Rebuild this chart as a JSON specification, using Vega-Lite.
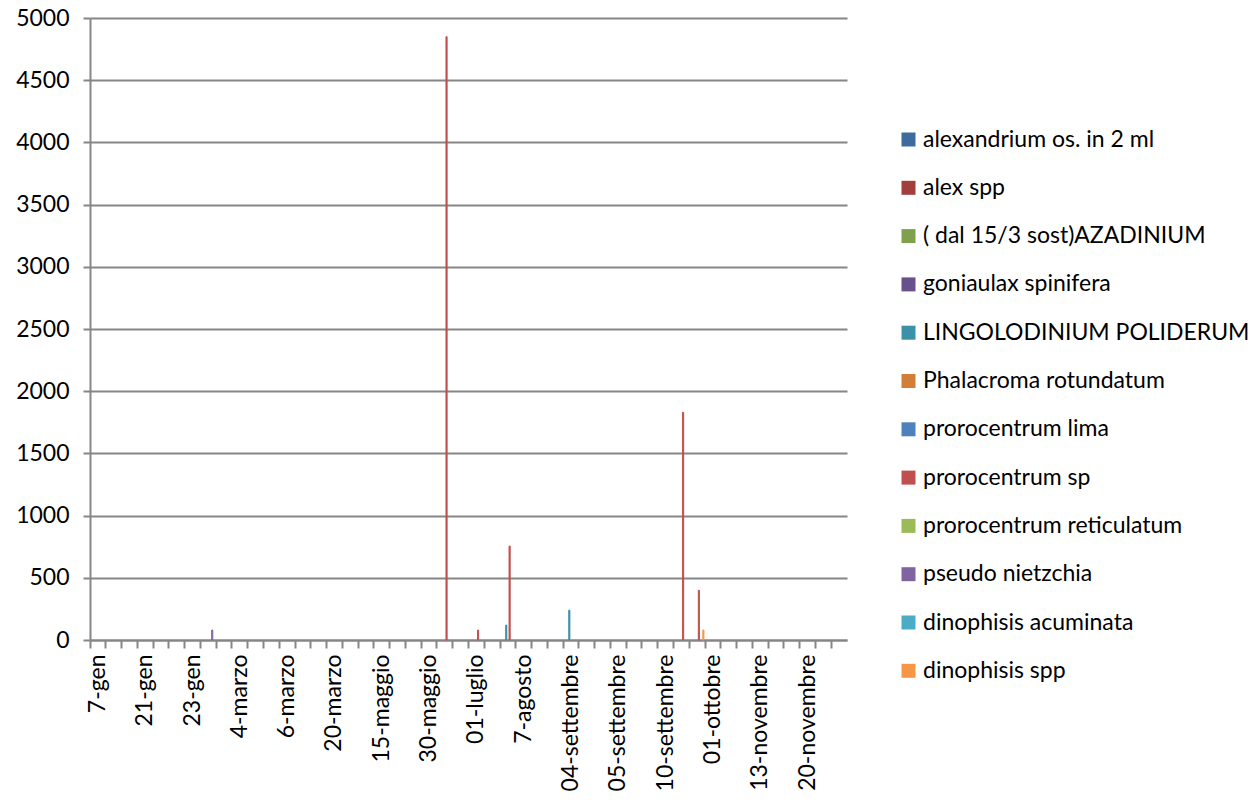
{
  "$schema": "https://vega.github.io/schema/vega-lite/v6.json",
  "autosize": "none",
  "width": 757,
  "height": 622,
  "padding": {"left": 90, "top": 18, "right": 409, "bottom": 172},
  "background": "white",
  "config": {"view": {"stroke": null}, "font": "Lato"},
  "data": {
    "values": [
      {"data": "18-febbraio", "specie": "pseudo nietzchia", "valore": 80},
      {"data": "12-giugno", "specie": "prorocentrum sp", "valore": 4850},
      {"data": "01-luglio", "specie": "prorocentrum sp", "valore": 80},
      {"data": "24-luglio", "specie": "LINGOLODINIUM POLIDERUM", "valore": 120},
      {"data": "24-luglio", "specie": "prorocentrum sp", "valore": 755},
      {"data": "04-settembre", "specie": "LINGOLODINIUM POLIDERUM", "valore": 240},
      {"data": "17-settembre", "specie": "prorocentrum sp", "valore": 1830},
      {"data": "24-settembre", "specie": "prorocentrum sp", "valore": 400},
      {"data": "24-settembre", "specie": "dinophisis spp", "valore": 80}
    ]
  },
  "mark": {"type": "bar", "strokeWidth": 1},
  "encoding": {
    "x": {
      "field": "data",
      "type": "nominal",
      "sort": null,
      "scale": {
        "domain": ["7-gen", "10-gen", "14-gen", "21-gen", "28-gen", "4-febbraio", "23-gen", "18-febbraio", "25-febbraio", "4-marzo", "3-marzo", "5-marzo", "6-marzo", "11-marzo", "13-marzo", "20-marzo", "27-marzo", "8-maggio", "15-maggio", "22-maggio", "27-maggio", "30-maggio", "12-giugno", "19-giugno", "01-luglio", "17-luglio", "24-luglio", "7-agosto", "21-agosto", "28-agosto", "04-settembre", "11-settembre", "18-settembre", "05-settembre", "12-settembre", "19-settembre", "10-settembre", "17-settembre", "24-settembre", "01-ottobre", "16-ottobre", "30-ottobre", "13-novembre", "14-novembre", "15-novembre", "20-novembre", "27-novembre", "11-dicembre"],
        "paddingInner": 0,
        "paddingOuter": 0
      },
      "axis": {
        "title": null,
        "labelAngle": -90,
        "bandPosition": 0,
        "labelExpr": "indexof(['7-gen','21-gen','23-gen','4-marzo','6-marzo','20-marzo','15-maggio','30-maggio','01-luglio','7-agosto','04-settembre','05-settembre','10-settembre','01-ottobre','13-novembre','20-novembre'], datum.label) >= 0 ? datum.label : ''",
        "labelOverlap": false,
        "labelFontSize": 23,
        "labelColor": "#000000",
        "labelPadding": 6,
        "tickColor": "#868686",
        "tickSize": 8,
        "tickWidth": 2,
        "domainColor": "#868686",
        "domainWidth": 2,
        "grid": false
      }
    },
    "xOffset": {
      "field": "specie",
      "type": "nominal",
      "scale": {
        "domain": ["alexandrium os. in 2 ml", "alex spp", "( dal 15/3 sost)AZADINIUM", "goniaulax spinifera", "LINGOLODINIUM POLIDERUM", "Phalacroma rotundatum", "prorocentrum lima", "prorocentrum sp", "prorocentrum reticulatum", "pseudo nietzchia", "dinophisis acuminata", "dinophisis spp"],
        "paddingInner": 0,
        "paddingOuter": 2
      }
    },
    "y": {
      "field": "valore",
      "type": "quantitative",
      "scale": {"domain": [0, 5000], "nice": false},
      "axis": {
        "title": null,
        "format": "d",
        "values": [0, 500, 1000, 1500, 2000, 2500, 3000, 3500, 4000, 4500, 5000],
        "labelFontSize": 23,
        "labelColor": "#000000",
        "labelPadding": 14,
        "tickColor": "#868686",
        "tickSize": 7,
        "tickWidth": 2,
        "domainColor": "#868686",
        "domainWidth": 2,
        "gridColor": "#868686",
        "gridWidth": 2
      }
    },
    "color": {
      "field": "specie",
      "type": "nominal",
      "scale": {
        "domain": ["alexandrium os. in 2 ml", "alex spp", "( dal 15/3 sost)AZADINIUM", "goniaulax spinifera", "LINGOLODINIUM POLIDERUM", "Phalacroma rotundatum", "prorocentrum lima", "prorocentrum sp", "prorocentrum reticulatum", "pseudo nietzchia", "dinophisis acuminata", "dinophisis spp"],
        "range": ["#3D6A9F", "#A23E3B", "#81A04B", "#67518C", "#3A91A8", "#D27D38", "#4F81BD", "#C0504D", "#9BBB59", "#8064A2", "#4BACC6", "#F79646"]
      },
      "legend": {
        "orient": "none",
        "legendX": 807,
        "legendY": 110,
        "title": null,
        "symbolType": "square",
        "symbolSize": 196,
        "symbolStrokeWidth": 0,
        "labelFontSize": 23,
        "labelColor": "#000000",
        "labelLimit": 400,
        "labelOffset": 3,
        "rowPadding": 24.3
      }
    },
    "stroke": {
      "field": "specie",
      "type": "nominal",
      "scale": {
        "domain": ["alexandrium os. in 2 ml", "alex spp", "( dal 15/3 sost)AZADINIUM", "goniaulax spinifera", "LINGOLODINIUM POLIDERUM", "Phalacroma rotundatum", "prorocentrum lima", "prorocentrum sp", "prorocentrum reticulatum", "pseudo nietzchia", "dinophisis acuminata", "dinophisis spp"],
        "range": ["#3D6A9F", "#A23E3B", "#81A04B", "#67518C", "#3A91A8", "#D27D38", "#4F81BD", "#C0504D", "#9BBB59", "#8064A2", "#4BACC6", "#F79646"]
      },
      "legend": null
    }
  }
}
